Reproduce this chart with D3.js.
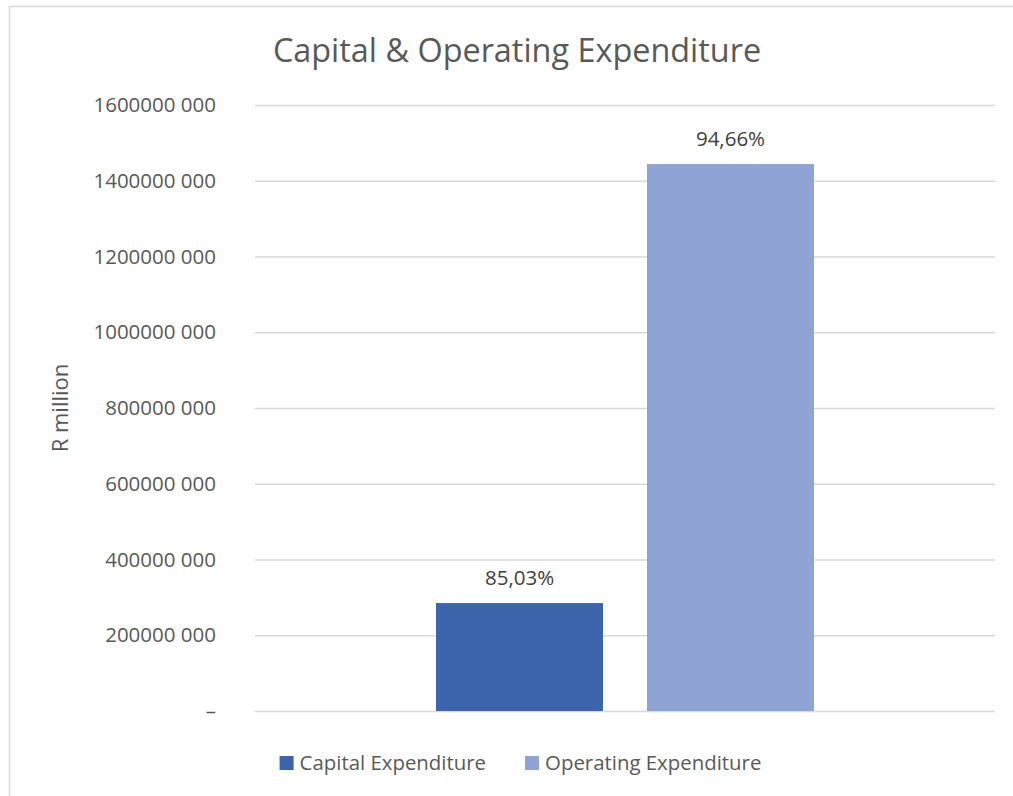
<!DOCTYPE html>
<html>
<head>
<meta charset="utf-8">
<script src="https://cdn.jsdelivr.net/npm/d3@7"></script>
<style>
  body { margin: 0; background: #fff; }
  svg { display: block; }
  text { font-family: "Open Sans", "Noto Sans", sans-serif; }
</style>
</head>
<body>
<svg id="chart" width="1013" height="796"></svg>
<script>
// Chart data
const chartTitle = "Capital & Operating Expenditure";
const axisTitle = "R million";
const seriesNames = ["Capital Expenditure", "Operating Expenditure"];
const seriesValues = [285000000, 1444000000];
const valueLabels = ["85,03%", "94,66%"];
const tickValues = [0, 200000000, 400000000, 600000000, 800000000, 1000000000, 1200000000, 1400000000, 1600000000];
const tickLabels = ["–", "200000 000", "400000 000", "600000 000", "800000 000", "1000000 000", "1200000 000", "1400000 000", "1600000 000"];

const svg = d3.select("#chart");
const W = 1013, H = 796;
const plot = { left: 255, right: 995, top: 105, bottom: 711 };

// Chart frame (top and left edges visible)
svg.append("path")
  .attr("d", `M9.5,${H} V6.5 H${W}`)
  .attr("fill", "none")
  .attr("stroke", "#d9d9d9")
  .attr("stroke-width", 1.5);

const y = d3.scaleLinear()
  .domain([0, d3.max(tickValues)])
  .range([plot.bottom, plot.top]);

const x = d3.scaleBand()
  .domain(seriesNames)
  .range([plot.left, plot.right])
  .paddingInner(0.2085)
  .paddingOuter(0.858);

const color = d3.scaleOrdinal()
  .domain(seriesNames)
  .range(["#3c64ac", "#8fa4d4"]);

// Gridlines and tick labels via a left axis
const yAxis = d3.axisLeft(y)
  .tickValues(tickValues)
  .tickFormat((d, i) => tickLabels[i])
  .tickSize(-(plot.right - plot.left))
  .tickPadding(39);

const gAxis = svg.append("g")
  .attr("transform", `translate(${plot.left},0)`)
  .call(yAxis);
gAxis.select(".domain").remove();
gAxis.selectAll(".tick line")
  .attr("stroke", "#d9d9d9")
  .attr("stroke-width", 1.5);
gAxis.selectAll(".tick text")
  .attr("fill", "#595959")
  .style("font-size", "20.5px");

// Bars
const data = seriesNames.map((name, i) => ({ name, value: seriesValues[i], label: valueLabels[i] }));

svg.append("g").selectAll("rect")
  .data(data)
  .join("rect")
  .attr("x", d => x(d.name))
  .attr("y", d => y(d.value))
  .attr("width", x.bandwidth())
  .attr("height", d => y(0) - y(d.value))
  .attr("fill", d => color(d.name));

// Data labels
svg.append("g").selectAll("text")
  .data(data)
  .join("text")
  .attr("x", d => x(d.name) + x.bandwidth() / 2)
  .attr("y", d => y(d.value) - 18)
  .attr("text-anchor", "middle")
  .attr("fill", "#404040")
  .style("font-size", "20.5px")
  .text(d => d.label);

// Title
svg.append("text")
  .attr("x", 517)
  .attr("y", 62)
  .attr("text-anchor", "middle")
  .attr("fill", "#595959")
  .style("font-size", "32.4px")
  .text(chartTitle);

// Axis title
svg.append("text")
  .attr("transform", "translate(68,408) rotate(-90)")
  .attr("text-anchor", "middle")
  .attr("fill", "#595959")
  .style("font-size", "22px")
  .text(axisTitle);

// Legend
const legend = svg.append("g");
const items = legend.selectAll("g")
  .data(seriesNames)
  .join("g");
items.append("rect")
  .attr("width", 14)
  .attr("height", 14)
  .attr("y", -14)
  .attr("fill", d => color(d));
items.append("text")
  .attr("x", 20)
  .attr("fill", "#595959")
  .style("font-size", "20.4px")
  .text(d => d);

let cursor = 0;
items.each(function () {
  d3.select(this).attr("transform", `translate(${cursor},770)`);
  const w = d3.select(this).select("text").node().getComputedTextLength();
  cursor += 20 + w + 39;
});
const legendWidth = cursor - 39;
legend.attr("transform", `translate(${520.5 - legendWidth / 2},0)`);
</script>
</body>
</html>
